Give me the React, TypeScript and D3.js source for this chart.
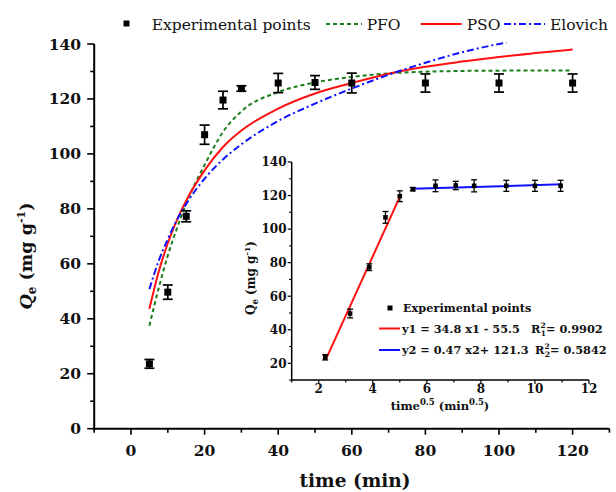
import React from "react";
import * as d3 from "d3";

// kinetic data
const times = [5, 10, 15, 20, 25, 30, 40, 50, 60, 80, 100, 120];
const qExp = [23.6, 49.7, 77.3, 107, 119.6, 123.8, 125.8, 126, 125.8, 125.8, 125.8, 125.8];
const qErr = [1.6, 2.6, 2.0, 3.5, 3.2, 1.0, 3.5, 2.5, 3.6, 3.3, 3.3, 3.3];

const fitTimes = [5, 7.5, 10, 12.5, 15, 20, 25, 30, 40, 50, 60, 70, 80, 90, 100, 110, 120];
const pfo = [37.5, 51, 63, 73, 82, 96, 108, 115.5, 122.5, 126, 128, 129.3, 129.9, 130.2, 130.3, 130.4, 130.4];
const pso = [43.6, 57, 67.5, 76, 83, 94, 102.5, 108.5, 116.5, 122, 125.8, 129.2, 131.7, 133.6, 135.3, 136.7, 138];
const elovichTimes = [5, 7.5, 10, 12.5, 15, 20, 25, 30, 40, 50, 60, 70, 80, 90, 100, 102];
const elovich = [50.8, 61, 69, 76, 81.8, 91, 98, 103.5, 112, 118.3, 123.8, 128.8, 133.2, 137, 140, 140.5];

// intraparticle diffusion (inset)
const sqrtTimes = [2.24, 3.16, 3.87, 4.47, 5.0, 5.48, 6.32, 7.07, 7.75, 8.94, 10.0, 10.95];
const stage1X = [2.26, 5.0];
const stage1Y = [22.2, 119.2];
const stage2X = [5.45, 11.0];
const stage2Y = [124, 126.7];

const mainYTicks = d3.range(0, 141, 10);
const mainXTicks = d3.range(-10, 131, 10);
const insetYTicks = d3.range(10, 141, 10);
const insetXTicks = d3.range(1, 13, 1);

const FONT = "'DejaVu Serif', serif";

function App() {
	const x = d3.scaleLinear().domain([-10, 130]).range([94.2, 609.4]);
	const y = d3.scaleLinear().domain([0, 140]).range([428.7, 44]);
	const xi = d3.scaleLinear().domain([1, 12]).range([291.7, 589]);
	const yi = d3.scaleLinear().domain([10, 140]).range([380.1, 162]);

	const fitLine = (xs: number[], ys: number[]) =>
		d3.line<number>()
			.x((d, i) => x(xs[i]))
			.y(d => y(d))
			.curve(d3.curveMonotoneX)(ys);

	const insetLine = (xs: number[], ys: number[]) =>
		d3.line<number>()
			.x((d, i) => xi(xs[i]))
			.y(d => yi(d))(ys);

	return (
		<svg width={616} height={492} style={{ position: "absolute", left: 0, top: 0, background: "#fff" }} fontFamily={FONT}>
			{/* ---- main axes ---- */}
			<g stroke="#000" strokeWidth={2} fill="none">
				<line x1={x(-10)} x2={x(-10)} y1={y(0) + 1} y2={y(140)} />
				<line x1={x(-10) - 1} x2={x(130)} y1={y(0)} y2={y(0)} />
				{mainYTicks.map(t => (
					<line key={"my" + t} x1={x(-10)} x2={x(-10) - (t % 20 === 0 ? 7 : 4)} y1={y(t)} y2={y(t)} strokeWidth={1.6} />
				))}
				{mainXTicks.map(t => (
					<line key={"mx" + t} x1={x(t)} x2={x(t)} y1={y(0)} y2={y(0) + (t % 20 === 0 ? 6 : 4)} strokeWidth={1.6} />
				))}
			</g>
			<g fontWeight="bold" fontSize={15.5} fill="#111">
				{mainYTicks.filter(t => t % 20 === 0).map(t => (
					<text key={"myl" + t} x={81} y={y(t) + 5.5} textAnchor="end">{t}</text>
				))}
				{mainXTicks.filter(t => t % 20 === 0 && t >= 0).map(t => (
					<text key={"mxl" + t} x={x(t)} y={456} textAnchor="middle">{t}</text>
				))}
			</g>
			<text x={355} y={487} textAnchor="middle" fontWeight="bold" fontSize={18.5} fill="#111">time (min)</text>
			<text transform="translate(32,256) rotate(-90)" textAnchor="middle" fontWeight="bold" fontSize={17.5} fill="#111">
				<tspan fontStyle="italic">Q</tspan>
				<tspan fontSize={12} dy={4}>e</tspan>
				<tspan dy={-4}> (mg g</tspan>
				<tspan fontSize={11} dy={-7}>-1</tspan>
				<tspan dy={7}>)</tspan>
			</text>

			{/* ---- model curves ---- */}
			<path d={fitLine(fitTimes, pfo) || ""} fill="none" stroke="#1a7f1a" strokeWidth={2} strokeDasharray="4,3" />
			<path d={fitLine(fitTimes, pso) || ""} fill="none" stroke="#ff1010" strokeWidth={2} />
			<path d={fitLine(elovichTimes, elovich) || ""} fill="none" stroke="#1010ff" strokeWidth={2} strokeDasharray="7,3,2,3" />

			{/* ---- experimental points ---- */}
			<g stroke="#000" strokeWidth={1.7}>
				{times.map((t, i) => (
					<g key={"e" + t}>
						<line x1={x(t)} x2={x(t)} y1={y(qExp[i] - qErr[i])} y2={y(qExp[i] + qErr[i])} />
						<line x1={x(t) - 5} x2={x(t) + 5} y1={y(qExp[i] - qErr[i])} y2={y(qExp[i] - qErr[i])} />
						<line x1={x(t) - 5} x2={x(t) + 5} y1={y(qExp[i] + qErr[i])} y2={y(qExp[i] + qErr[i])} />
						<rect x={x(t) - 3.5} y={y(qExp[i]) - 3.5} width={7} height={7} fill="#000" stroke="none" />
					</g>
				))}
			</g>

			{/* ---- main legend ---- */}
			<g fontSize={15.5} fill="#111">
				<rect x={123.5} y={20.5} width={6} height={6} fill="#000" />
				<text x={151.7} y={30}>Experimental points</text>
				<line x1={326} x2={362} y1={24} y2={24} stroke="#1a7f1a" strokeWidth={2} strokeDasharray="4,3" />
				<text x={366.7} y={30}>PFO</text>
				<line x1={420.7} x2={461.7} y1={24} y2={24} stroke="#ff1010" strokeWidth={2} />
				<text x={466.7} y={30}>PSO</text>
				<line x1={504} x2={545} y1={24} y2={24} stroke="#1010ff" strokeWidth={2} strokeDasharray="7,3,2,3" />
				<text x={550} y={30}>Elovich</text>
			</g>

			{/* ---- inset axes ---- */}
			<g stroke="#000" strokeWidth={1.5} fill="none">
				<line x1={xi(1)} x2={xi(1)} y1={yi(10) + 0.7} y2={yi(140)} />
				<line x1={xi(1) - 0.7} x2={xi(12)} y1={yi(10)} y2={yi(10)} />
				{insetYTicks.map(t => (
					<line key={"iy" + t} x1={xi(1)} x2={xi(1) - (t % 20 === 0 ? 4 : 2.5)} y1={yi(t)} y2={yi(t)} strokeWidth={1.2} />
				))}
				{insetXTicks.map(t => (
					<line key={"ix" + t} x1={xi(t)} x2={xi(t)} y1={yi(10)} y2={yi(10) + (t % 2 === 0 ? 4 : 2.5)} strokeWidth={1.2} />
				))}
			</g>
			<g fontWeight="bold" fontSize={12} fill="#111">
				{insetYTicks.filter(t => t % 20 === 0).map(t => (
					<text key={"iyl" + t} x={286.5} y={yi(t) + 4.3} textAnchor="end">{t}</text>
				))}
				{insetXTicks.filter(t => t % 2 === 0).map(t => (
					<text key={"ixl" + t} x={xi(t)} y={393} textAnchor="middle">{t}</text>
				))}
			</g>
			<text x={440} y={410} textAnchor="middle" fontWeight="bold" fontSize={11.5} fill="#111">
				time<tspan fontSize={8.5} dy={-5}>0.5</tspan>
				<tspan dy={5}> (min</tspan>
				<tspan fontSize={8.5} dy={-5}>0.5</tspan>
				<tspan dy={5}>)</tspan>
			</text>
			<text transform="translate(255,278) rotate(-90)" textAnchor="middle" fontWeight="bold" fontSize={12} fill="#111">
				<tspan>Q</tspan>
				<tspan fontSize={8.5} dy={3}>e</tspan>
				<tspan dy={-3}> (mg g</tspan>
				<tspan fontSize={8} dy={-5}>-1</tspan>
				<tspan dy={5}>)</tspan>
			</text>

			{/* ---- inset fits ---- */}
			<path d={insetLine(stage1X, stage1Y) || ""} fill="none" stroke="#ff1010" strokeWidth={2} />
			<path d={insetLine(stage2X, stage2Y) || ""} fill="none" stroke="#1010ff" strokeWidth={2} />

			{/* ---- inset points ---- */}
			<g stroke="#000" strokeWidth={1.3}>
				{sqrtTimes.map((s, i) => (
					<g key={"ie" + i}>
						<line x1={xi(s)} x2={xi(s)} y1={yi(qExp[i] - qErr[i])} y2={yi(qExp[i] + qErr[i])} />
						<line x1={xi(s) - 3} x2={xi(s) + 3} y1={yi(qExp[i] - qErr[i])} y2={yi(qExp[i] - qErr[i])} />
						<line x1={xi(s) - 3} x2={xi(s) + 3} y1={yi(qExp[i] + qErr[i])} y2={yi(qExp[i] + qErr[i])} />
						<rect x={xi(s) - 2.3} y={yi(qExp[i]) - 2.3} width={4.6} height={4.6} fill="#000" stroke="none" />
					</g>
				))}
			</g>

			{/* ---- inset legend ---- */}
			<g fontWeight="bold" fontSize={11.3} fill="#111">
				<rect x={387.5} y={305.5} width={5} height={5} fill="#000" />
				<text x={403} y={312}>Experimental points</text>
				<line x1={379} x2={400} y1={328.5} y2={328.5} stroke="#ff1010" strokeWidth={2} />
				<text x={402} y={332.5}>y1 = 34.8 x1 - 55.5</text>
				<text x={531} y={332.5}>R<tspan fontSize={7.5} dy={-5}>2</tspan><tspan fontSize={7.5} dx={-4.8} dy={8}>1</tspan><tspan dy={-3}>= 0.9902</tspan></text>
				<line x1={379} x2={400} y1={350} y2={350} stroke="#1010ff" strokeWidth={2} />
				<text x={402} y={354}>y2 = 0.47 x2+ 121.3</text>
				<text x={535} y={354}>R<tspan fontSize={7.5} dy={-5}>2</tspan><tspan fontSize={7.5} dx={-4.8} dy={8}>2</tspan><tspan dy={-3}>= 0.5842</tspan></text>
			</g>
		</svg>
	);
}

export default App;
